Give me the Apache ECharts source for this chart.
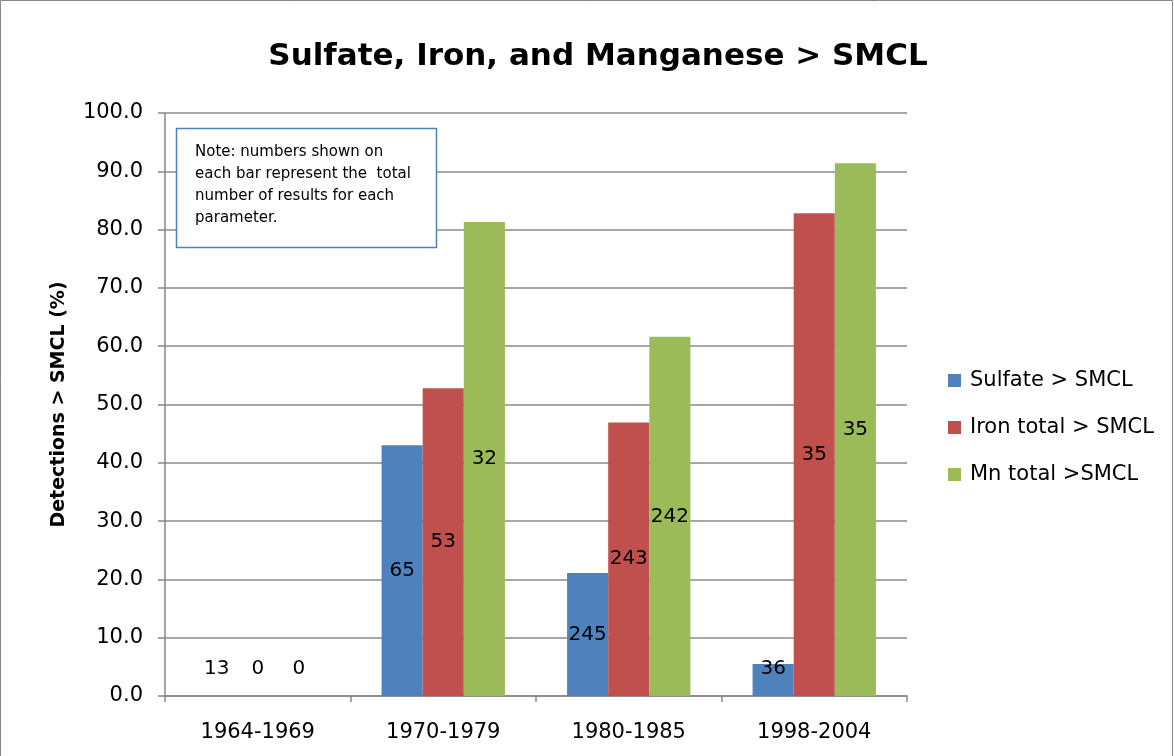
<!DOCTYPE html>
<html>
<head>
<meta charset="utf-8">
<script src="https://cdn.jsdelivr.net/npm/echarts@6/dist/echarts.min.js"></script>
<style>
html,body{margin:0;padding:0;background:#fff;}
#chart{width:1174px;height:756px;}
</style>
</head>
<body>
<div id="chart"></div>
<script>
var categories = ['1964-1969', '1970-1979', '1980-1985', '1998-2004'];
var seriesNames = ['Sulfate > SMCL', 'Iron total > SMCL', 'Mn total >SMCL'];
var sulfate = [0, 43.0, 21.1, 5.5];
var iron = [0, 52.8, 46.9, 82.8];
var mn = [0, 81.3, 61.6, 91.4];
var sulfateCount = [13, 65, 245, 36];
var ironCount = [0, 53, 243, 35];
var mnCount = [0, 32, 242, 35];
var noteLines = ['Note: numbers shown on', 'each bar represent the  total', 'number of results for each', 'parameter.'];

var FONT = 'DejaVu Sans';
var colors = ['#4F81BD', '#C0504D', '#9BBB59'];

function buildData(values, counts) {
  return values.map(function (v, i) {
    var small = v < 9.3;
    return {
      value: v,
      label: small ? { position: 'insideBottom', distance: 17 } : { position: 'inside' },
      count: counts[i]
    };
  });
}

function makeSeries(name, values, counts, color) {
  return {
    name: name,
    type: 'bar',
    barGap: '0%',
    barCategoryGap: '33.5%',
    itemStyle: { color: color },
    label: {
      show: true,
      color: '#000',
      fontFamily: FONT,
      fontSize: 20,
      lineHeight: 20,
      formatter: function (p) { return String(p.data.count); }
    },
    data: buildData(values, counts)
  };
}

var chart = echarts.init(document.getElementById('chart'), null, { renderer: 'canvas' });
chart.setOption({
  animation: false,
  backgroundColor: '#fff',
  title: {
    text: 'Sulfate, Iron, and Manganese > SMCL',
    left: 593,
    textAlign: 'center',
    top: 36,
    textStyle: { fontFamily: FONT, fontWeight: 'bold', fontSize: 31, color: '#000' }
  },
  legend: {
    orient: 'vertical',
    left: 943,
    top: 365,
    itemWidth: 13,
    itemHeight: 13,
    itemGap: 26,
    icon: 'rect',
    textStyle: { fontFamily: FONT, fontSize: 21, lineHeight: 21, color: '#000', padding: [0, 0, 0, 4] },
    data: seriesNames
  },
  grid: { left: 165, right: 267, top: 113, bottom: 60, containLabel: false },
  xAxis: {
    type: 'category',
    data: categories,
    axisLine: { show: true, lineStyle: { color: '#868686', width: 1.5 } },
    axisTick: { show: true, length: 6, lineStyle: { color: '#868686', width: 1.5 } },
    axisLabel: { fontFamily: FONT, fontSize: 21, color: '#000', margin: 26 }
  },
  yAxis: {
    type: 'value',
    min: 0,
    max: 100,
    interval: 10,
    name: 'Detections > SMCL (%)',
    nameLocation: 'middle',
    nameRotate: 90,
    nameGap: 96,
    nameTextStyle: { fontFamily: FONT, fontWeight: 'bold', fontSize: 19, color: '#000' },
    axisLine: { show: true, lineStyle: { color: '#868686', width: 1.5 } },
    axisTick: { show: true, length: 7, lineStyle: { color: '#868686', width: 1.5 } },
    axisLabel: {
      fontFamily: FONT, fontSize: 21, color: '#000', margin: 22,
      formatter: function (v) { return v.toFixed(1); }
    },
    splitLine: { show: true, lineStyle: { color: '#8a8a8a', width: 1.5 } }
  },
  series: [
    makeSeries(seriesNames[0], sulfate, sulfateCount, colors[0]),
    makeSeries(seriesNames[1], iron, ironCount, colors[1]),
    makeSeries(seriesNames[2], mn, mnCount, colors[2])
  ],
  graphic: [
    {
      type: 'rect',
      z: 100,
      shape: { x: 176.5, y: 128.5, width: 260, height: 119 },
      style: { fill: '#fff', stroke: '#4F81BD', lineWidth: 1.5 }
    },
    {
      type: 'text',
      z: 101,
      left: 195,
      top: 141,
      style: {
        text: noteLines.join('\n'),
        fontFamily: FONT,
        fontSize: 15,
        lineHeight: 22,
        fill: '#000'
      }
    },
    {
      type: 'rect',
      z: 100,
      silent: true,
      shape: { x: 0.5, y: 0.5, width: 1172, height: 800 },
      style: { fill: 'none', stroke: '#868686', lineWidth: 1 }
    }
  ]
});
</script>
</body>
</html>
